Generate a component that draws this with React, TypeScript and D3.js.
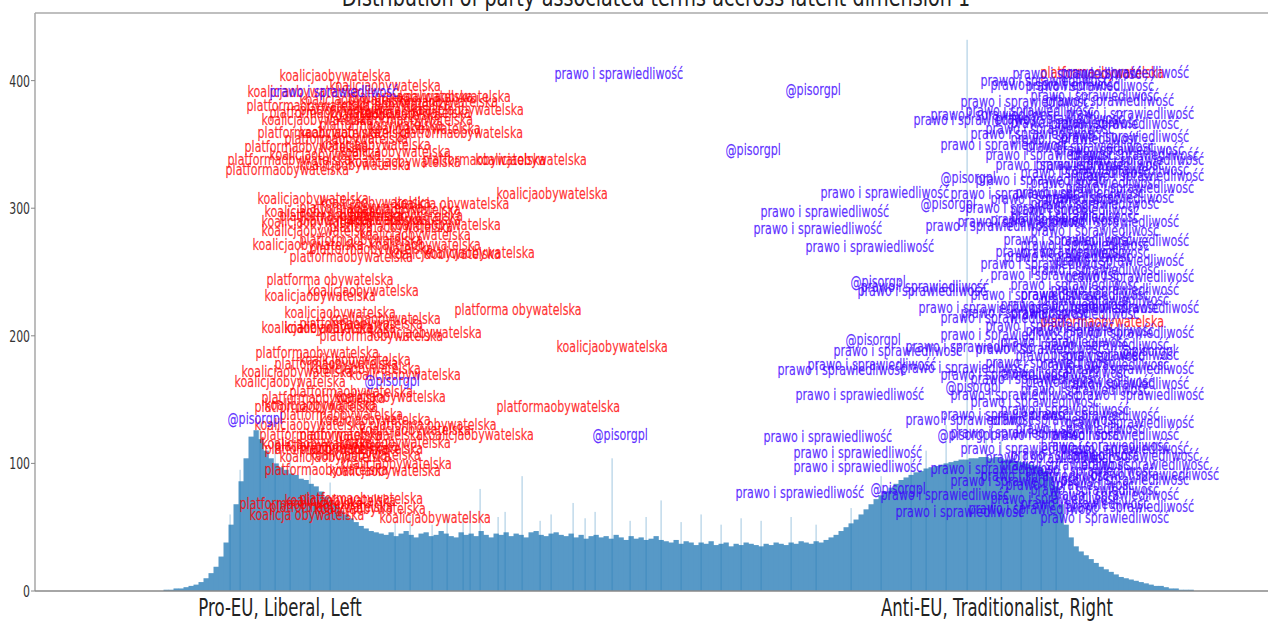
import React, { useEffect } from "react";
import * as d3 from "d3";

// ---------- data ----------
const TITLE = "Distribution of party-associated terms accross latent dimension 1";
const X_TICKS = [-3.585, 3.585];
const X_TICK_LABELS = ["Pro-EU, Liberal, Left", "Anti-EU, Traditionalist, Right"];
const Y_TICKS = [0, 100, 200, 300, 400];

const BIN_START = -4.75;
const BIN_WIDTH = 0.05;
const BIN_COUNTS = [
  1, 1, 2, 2, 3, 4, 5, 7, 10, 14, 19, 27, 38, 52, 68, 86, 104, 121, 126, 119,
  110, 104, 100, 97, 95, 92, 91, 88, 87, 84, 82, 78, 74, 71, 67, 63, 60, 57, 54, 51,
  49, 47, 46, 45,
  44, 46, 43, 45, 47, 44, 42, 45, 46, 43, 44, 47, 45, 43, 42, 46, 44, 45, 43, 47,
  44, 42, 45, 44, 46, 43, 45, 44, 42, 46, 47, 44, 43, 45, 46, 44,
  43, 45, 42, 44, 41, 43, 44, 42, 43, 41, 44, 42, 40, 43, 41, 42, 40, 41, 43, 40,
  39, 38, 40, 37, 39, 38, 36, 38, 37, 39, 36, 37, 38, 35, 37, 36, 38, 37, 36, 35,
  37, 36, 38, 37, 36, 38, 37, 39, 38, 37, 39, 38, 40,
  42, 44, 47, 50, 53, 56, 60, 64, 68, 72, 75, 78, 81, 84, 87, 89, 91, 93, 94, 96,
  97, 98, 99, 100, 101, 102, 103, 103, 104, 104, 105, 105, 104, 105, 104, 103, 103, 102, 101, 100,
  99, 98, 96, 94, 90, 82, 68, 52, 42, 35, 31, 28, 25, 22, 19, 17, 15, 13, 11, 10,
  9, 8, 7, 6, 5, 4, 4, 3, 2, 2, 1, 1, 1,
];
// isolated narrow spikes of the fine-grained histogram
const SPIKE_X = [
  3.28, -0.27, -1.17, -1.59, -0.66, 0.22, 3.07, 3.47, -3.79,
  -2.44, -2.29, -2.07, -1.92, -1.76, -1.69, -1.41, -1.34, -0.99, -0.88, -0.54, -0.44,
  -0.09, 0.07, 0.42, 0.62, 0.82, 1.02, 1.22, 1.52, 1.77, 2.12, 2.42, 2.72, 2.87,
  3.62, 3.82, 4.02, 4.17, -3.64, -3.49, -3.29, -3.09, -4.09, -3.99,
];
const SPIKE_COUNT = [
  432, 104, 90, 80, 69, 71, 130, 125, 135,
  55, 58, 52, 60, 56, 63, 58, 62, 55, 60, 57, 62,
  55, 58, 54, 60, 52, 57, 55, 58, 52, 65, 90, 105, 110,
  118, 115, 112, 100, 118, 108, 98, 85, 60, 95,
];

// term positions (latent dimension, count)
const KOALICJA: [number, number][] = [
  [-3.59, 400], [-3.91, 387], [-3.09, 392], [-3.39, 381], [-2.39, 383], [-2.26, 373],
  [-3.09, 369], [-3.77, 365], [-3.39, 355], [-3.69, 338], [-3.19, 346], [-3.39, 330],
  [-2.89, 332], [-3.81, 303], [-1.42, 307], [-3.74, 293], [-2.89, 295], [-3.77, 285],
  [-2.89, 287], [-3.77, 278], [-3.86, 267], [-2.69, 267], [-2.15, 261], [-3.74, 227],
  [-3.31, 231], [-3.54, 214], [-3.77, 202], [-3.09, 209], [-2.68, 198], [-0.82, 187],
  [-3.39, 177], [-3.97, 168], [-4.04, 160], [-3.74, 142], [-2.16, 118], [-3.84, 126],
  [-3.77, 111], [-3.59, 101], [-2.98, 96], [-3.29, 103], [-3.54, 67], [-2.59, 53],
  [-2.99, 377], [-2.79, 371], [-2.69, 358], [-2.99, 340], [-1.63, 334], [-3.19, 300],
  [-2.49, 283], [-2.79, 275], [-2.49, 260], [-3.54, 202], [-3.29, 170], [-2.89, 165],
  [-3.04, 148], [-3.19, 130], [-2.79, 122], [-2.99, 112], [-3.09, 90], [-3.24, 60],
];
const PLATFORMA: [number, number][] = [
  [-3.92, 376], [-2.89, 383], [-3.39, 373], [-3.69, 371], [-2.89, 365], [-3.81, 355],
  [-2.39, 355], [-3.94, 344], [-2.16, 334], [-4.11, 334], [-4.13, 326], [-3.39, 296],
  [-3.39, 287], [-3.09, 281], [-3.39, 271], [-3.49, 258], [-3.39, 205], [-3.83, 183],
  [-3.77, 147], [-3.84, 140], [-1.42, 140], [-3.79, 118], [-3.74, 107], [-3.39, 107],
  [-3.74, 91], [-3.99, 64], [-3.69, 62], [4.02, 402], [4.02, 207],
  [-2.64, 379], [-3.19, 361], [-3.54, 350], [-2.99, 290], [-3.59, 290], [-3.29, 264],
  [-3.19, 196], [-3.64, 174], [-3.49, 152], [-3.59, 134], [-3.39, 118], [-3.64, 110],
  [-3.39, 68],
];
const PLATFORMA_SPACED: [number, number][] = [[-3.72, 240], [-1.84, 216], [-2.69, 126]];
const KOALICJA_SPACED: [number, number][] = [[-2.44, 299], [-3.89, 56]];

const PRAWO: [number, number][] = [
  [-3.69, 387], [-0.84, 401], [1.82, 308], [1.22, 293], [1.15, 280], [1.67, 266],
  [2.19, 231], [1.95, 184], [1.39, 169], [1.69, 173], [1.57, 150], [1.25, 117],
  [1.55, 104], [1.55, 93], [0.97, 73], [2.42, 71], [2.57, 58],
  [3.74, 401], [4.22, 402], [3.52, 393], [3.22, 379], [3.92, 384], [2.75, 365],
  [2.92, 369], [3.72, 363], [4.12, 362], [3.02, 346], [3.32, 354], [3.72, 350],
  [4.22, 352], [3.47, 338], [4.32, 338], [4.37, 334], [3.82, 324], [3.92, 316],
  [4.22, 326], [4.37, 321], [3.12, 307], [3.52, 303], [3.72, 295], [3.92, 299],
  [2.87, 282], [3.19, 285], [3.52, 287], [3.72, 289], [4.12, 285], [3.65, 271],
  [3.82, 267], [3.42, 252], [3.65, 258], [3.82, 261], [3.92, 248], [3.72, 236],
  [4.12, 232], [3.82, 228], [2.22, 234], [2.80, 218], [3.02, 210], [3.22, 214],
  [3.72, 213], [4.02, 224], [3.62, 220], [2.67, 187], [3.02, 197], [3.62, 191],
  [4.02, 189], [4.12, 181], [2.62, 171], [3.02, 165], [3.32, 162], [3.62, 167],
  [4.02, 173], [4.22, 158], [3.82, 154], [3.32, 144], [3.62, 138], [3.92, 134],
  [2.67, 130], [3.02, 134], [3.52, 118], [4.12, 118], [4.22, 107], [3.72, 103],
  [3.22, 107], [3.62, 95], [4.42, 95], [4.52, 87], [3.67, 79], [3.92, 75],
  [4.12, 71], [3.82, 64], [4.02, 53], [3.30, 60],
  [3.42, 396], [3.87, 392], [4.07, 380], [3.27, 372], [3.57, 366], [4.27, 370],
  [3.47, 358], [3.87, 344], [4.17, 342], [3.57, 330], [3.97, 330], [4.27, 312],
  [3.37, 318], [3.77, 308], [4.07, 304], [3.27, 296], [3.92, 278], [4.22, 270],
  [3.57, 262], [4.17, 255], [3.52, 244], [4.27, 242], [3.32, 228], [3.92, 218],
  [4.32, 218], [3.47, 204], [3.87, 200], [4.27, 198], [3.37, 186], [3.77, 180],
  [4.27, 170], [3.47, 175], [3.87, 160], [4.37, 150], [3.12, 150], [3.52, 130],
  [4.27, 128], [3.77, 123], [3.12, 120], [4.02, 110], [3.47, 100], [4.32, 102],
  [3.87, 90], [3.42, 86], [4.22, 83], [3.52, 68], [4.27, 62], [2.92, 92], [3.12, 82],
];
const PISORGPL: [number, number][] = [
  [-2.74, 161], [-4.11, 131], [-0.46, 118], [1.47, 389], [0.87, 342], [2.12, 238],
  [2.07, 193], [2.32, 76], [3.02, 320], [2.82, 299], [4.82, 184], [3.07, 156], [2.99, 118],
];

// ---------- chart ----------
const W = 1268;
const H = 624;
const M = { left: 35, right: 1277, top: 13, bottom: 591 };
const X_DOMAIN: [number, number] = [-6.035, 6.385];
const Y_MAX = 453;
const RED = "#ff0000";
const BLUE = "#3c00ff";
const BAR = "#1f77b4";

type Term = { text: string; color: string; pts: [number, number][] };
const TERMS: Term[] = [
  { text: "koalicjaobywatelska", color: RED, pts: KOALICJA },
  { text: "platformaobywatelska", color: RED, pts: PLATFORMA },
  { text: "platforma obywatelska", color: RED, pts: PLATFORMA_SPACED },
  { text: "koalicja obywatelska", color: RED, pts: KOALICJA_SPACED },
  { text: "prawo i sprawiedliwość", color: BLUE, pts: PRAWO },
  { text: "@pisorgpl", color: BLUE, pts: PISORGPL },
];

export default function App() {
  useEffect(() => {
    document.body.style.margin = "0";
  }, []);
  const x = d3.scaleLinear().domain(X_DOMAIN).range([M.left, M.right]);
  const y = d3.scaleLinear().domain([0, Y_MAX]).range([M.bottom, M.top]);
  const font = "'DejaVu Sans', sans-serif";

  return (
    <div style={{ position: "absolute", left: 0, top: 0 }}>
      <svg width={W} height={H} style={{ display: "block", background: "#fff" }}>
        <g>
          {BIN_COUNTS.map((c, i) => {
            const x0 = x(BIN_START + i * BIN_WIDTH);
            const x1 = x(BIN_START + (i + 1) * BIN_WIDTH);
            return (
              <rect key={i} x={x0} y={y(c)} width={x1 - x0 + 0.3} height={y(0) - y(c)}
                fill={BAR} fillOpacity={0.75} />
            );
          })}
          {SPIKE_X.map((sx, i) => (
            <rect key={"s" + i} x={x(sx)} y={y(SPIKE_COUNT[i])} width={1.2}
              height={y(0) - y(SPIKE_COUNT[i])} fill={BAR} fillOpacity={0.35} />
          ))}
        </g>
        {/* spines */}
        <line x1={M.left} x2={M.left} y1={M.top} y2={M.bottom} stroke="#999" strokeWidth={1.3} />
        <line x1={M.left} x2={W} y1={M.bottom} y2={M.bottom} stroke="#888" strokeWidth={1.3} />
        <line x1={M.left} x2={W} y1={M.top} y2={M.top} stroke="#aaa" strokeWidth={1.3} />
        {/* y ticks */}
        {Y_TICKS.map((t) => (
          <g key={t}>
            <line x1={M.left - 4} x2={M.left} y1={y(t)} y2={y(t)} stroke="#888" />
            <text transform={`translate(${M.left - 5},${y(t) + 6}) scale(0.68,1)`}
              textAnchor="end" fontFamily={font} fontSize={16} fill="#333">{t}</text>
          </g>
        ))}
        {/* x ticks */}
        {X_TICKS.map((t, i) => (
          <text key={i} transform={`translate(${x(t)},${616}) scale(0.69,1)`}
            textAnchor="middle" fontFamily={font} fontSize={24} fill="#222">{X_TICK_LABELS[i]}</text>
        ))}
        {/* title */}
        <text transform={`translate(${656},${6}) scale(0.8,1)`}
          textAnchor="middle" fontFamily={font} fontSize={24} fill="#222">{TITLE}</text>
        {/* term labels */}
        {TERMS.map((term) =>
          term.pts.map((p, j) => (
            <text key={term.text + j} transform={`translate(${x(p[0])},${y(p[1])}) scale(0.695,1)`}
              fontFamily={font} fontSize={16} fill={term.color} fillOpacity={0.8}
              stroke={term.color} strokeOpacity={0.35} strokeWidth={0.5}>{term.text}</text>
          ))
        )}
      </svg>
    </div>
  );
}
